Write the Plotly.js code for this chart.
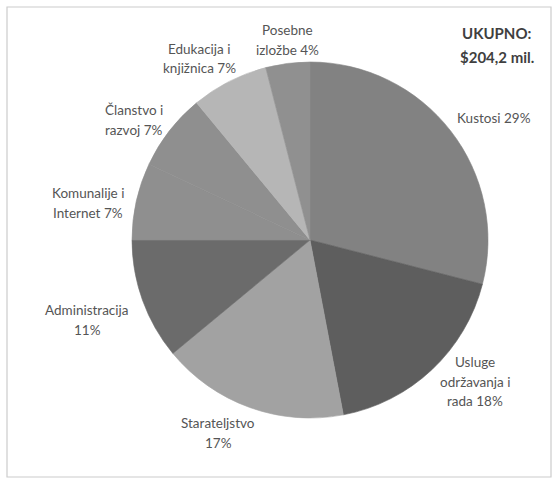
<!DOCTYPE html>
<html>
<head>
<meta charset="utf-8">
<script src="https://cdn.plot.ly/plotly-3.0.1.min.js"></script>
<style>html,body{margin:0;padding:0;background:#fff;}#chart{width:556px;height:479px;}</style>
</head>
<body>
<div id="chart"></div>
<script>
// Data
var categories = ["Kustosi", "Usluge održavanja i rada", "Starateljstvo", "Administracija", "Komunalije i Internet", "Članstvo i razvoj", "Edukacija i knjižnica", "Posebne izložbe"];
var shares = [29, 18, 17, 11, 7, 7, 7, 4];
var labelLines = [
  ["Kustosi 29%"],
  ["Usluge", "održavanja i", "rada 18%"],
  ["Starateljstvo", "17%"],
  ["Administracija", "11%"],
  ["Komunalije i", "Internet 7%"],
  ["Članstvo i", "razvoj 7%"],
  ["Edukacija i", "knjižnica 7%"],
  ["Posebne", "izložbe 4%"]
];
var totalLabel = ["UKUPNO:", "$204,2 mil."];

// Styles / positions
var sliceColors = ["#828282", "#5e5e5e", "#a2a2a2", "#6b6b6b", "#8f8f8f", "#8f8f8f", "#b6b6b6", "#909090"];
// first-line centre (px) of each label
var labelPos = [
  [494, 118], [475, 362], [218, 423], [87, 310], [88, 193], [134, 110], [199, 49], [287, 30]
];
var W = 556, H = 479;
var font = "Lato, 'Open Sans', sans-serif";
var lineGap = 19.5;

var annotations = [];
labelLines.forEach(function (lines, i) {
  lines.forEach(function (ln, k) {
    annotations.push({
      xref: "paper", yref: "paper",
      x: labelPos[i][0] / W, y: 1 - (labelPos[i][1] + k * lineGap) / H,
      xanchor: "center", yanchor: "middle",
      text: ln, showarrow: false,
      font: {family: font, size: 13.5, color: "#555555"}
    });
  });
});
totalLabel.forEach(function (ln, k) {
  annotations.push({
    xref: "paper", yref: "paper", x: 497 / W, y: 1 - (33 + k * 24) / H,
    xanchor: "center", yanchor: "middle",
    text: "<b>" + ln + "</b>", showarrow: false,
    font: {family: font, size: 15, color: "#3f3f3f"}
  });
});

var trace = {
  type: "pie",
  labels: categories,
  values: shares,
  sort: false,
  direction: "clockwise",
  rotation: 0,
  textinfo: "none",
  hoverinfo: "label+percent",
  marker: {colors: sliceColors, line: {width: 0.6, color: sliceColors}},
  domain: {x: [132 / W, 488 / W], y: [1 - 418 / H, 1 - 62 / H]},
  showlegend: false
};

var layout = {
  width: W, height: H,
  margin: {l: 0, r: 0, t: 0, b: 0},
  paper_bgcolor: "#ffffff",
  showlegend: false,
  annotations: annotations,
  shapes: [{
    type: "rect", xref: "paper", yref: "paper",
    x0: 7 / W, x1: 551 / W, y0: 1 - 477 / H, y1: 1 - 7 / H,
    line: {color: "#cccccc", width: 1.2}
  }]
};

Plotly.newPlot("chart", [trace], layout, {staticPlot: true, displayModeBar: false});
</script>
</body>
</html>
